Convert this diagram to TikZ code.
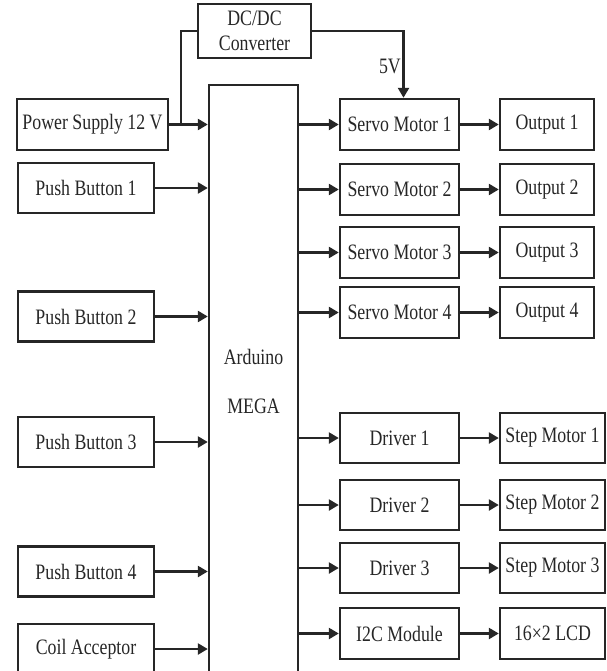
\documentclass[tikz,border=0pt]{standalone}
\usepackage{fontspec}
\setmainfont{Liberation Serif}[FakeStretch=0.81]
\usetikzlibrary{arrows.meta}
\begin{document}
\begin{tikzpicture}[x=1pt,y=-1pt,
  every node/.style={font=\fontsize{22}{25}\selectfont, text=black!85},
  blk/.style={draw=black!85, line width=2.4pt, inner sep=0pt, align=center},
  lbox/.style={blk, minimum width=136pt, minimum height=50pt},
  mbox/.style={blk, minimum width=119pt, minimum height=50pt},
  obox/.style={blk, minimum width=94pt, minimum height=50pt},
  sbox/.style={blk, minimum width=105pt, minimum height=50pt},
  conn/.style={draw=black!85, line width=2.4pt},
  arr/.style={conn, -{Triangle[length=10pt,width=11pt]}}
]
\useasboundingbox (0,0) rectangle (606,671);
\clip (0,0) rectangle (606,671);

% DC/DC converter
\node[blk, minimum width=113pt, minimum height=54pt] (dcdc) at (254.5,31) {DC/DC\\[0pt]Converter};

% Arduino
\node[blk, minimum width=89pt, minimum height=640pt] (ard) at (253.5,405) {};
\node (ardA) at (253.5,357) {Arduino};
\node (ardM) at (253.5,406) {MEGA};

% left column
\node[blk, minimum width=151pt, minimum height=51pt] (ps) at (92.5,124.5) {Power Supply 12 V};
\node[lbox] (pb1) at (86,188) {Push Button 1};
\node[lbox] (pb2) at (86,316.5) {Push Button 2};
\node[lbox] (pb3) at (86,442) {Push Button 3};
\node[lbox] (pb4) at (86,571.5) {Push Button 4};
\node[lbox] (coil) at (86,649) {Coil Acceptor};

% middle-right column
\node[mbox, minimum height=51pt] (s1) at (399.5,124.5) {Servo Motor 1};
\node[mbox, minimum height=51pt] (s2) at (399.5,189.5) {Servo Motor 2};
\node[mbox, minimum height=51pt] (s3) at (399.5,252.5) {Servo Motor 3};
\node[mbox, minimum height=51pt] (s4) at (399.5,312.5) {Servo Motor 4};
\node[mbox] (d1) at (399.5,438) {Driver 1};
\node[mbox] (d2) at (399.5,505) {Driver 2};
\node[mbox] (d3) at (399.5,568) {Driver 3};
\node[mbox, minimum height=51pt] (i2c) at (399.5,633.5) {I2C Module};

% right column
\node[obox, minimum height=51pt] (o1) at (547,124.5) {Output 1};
\node[obox, minimum height=51pt] (o2) at (547,189.5) {Output 2};
\node[obox, minimum height=51pt] (o3) at (547,252.5) {Output 3};
\node[obox, minimum height=51pt] (o4) at (547,312.5) {Output 4};
\node[sbox] (m1) at (552.5,438) {Step Motor 1};
\node[sbox] (m2) at (552.5,505) {Step Motor 2};
\node[sbox] (m3) at (552.5,568) {Step Motor 3};
\node[sbox, minimum height=51pt] (lcd) at (552.5,633.5) {16×2 LCD};

% power connections
\coordinate (br) at (181,124.5);
\draw[arr] (ps.east) -- (ard.west |- ps.east);
\draw[conn] (br) |- (dcdc.west);
\coordinate (s1top) at ([xshift=4pt]s1.north);
\draw[arr] (dcdc.east) -| (s1top);
\node[anchor=east, inner sep=0pt] (v5) at (401,66) {5V};

% inputs
\foreach \n in {pb1,pb2,pb3,pb4,coil}
  \draw[arr] (\n.east) -- (ard.west |- \n.east);

% outputs
\foreach \n/\m in {s1/o1,s2/o2,s3/o3,s4/o4,d1/m1,d2/m2,d3/m3,i2c/lcd} {
  \draw[arr] (ard.east |- \n.west) -- (\n.west);
  \draw[arr] (\n.east) -- (\m.west);
}
\end{tikzpicture}
\end{document}
